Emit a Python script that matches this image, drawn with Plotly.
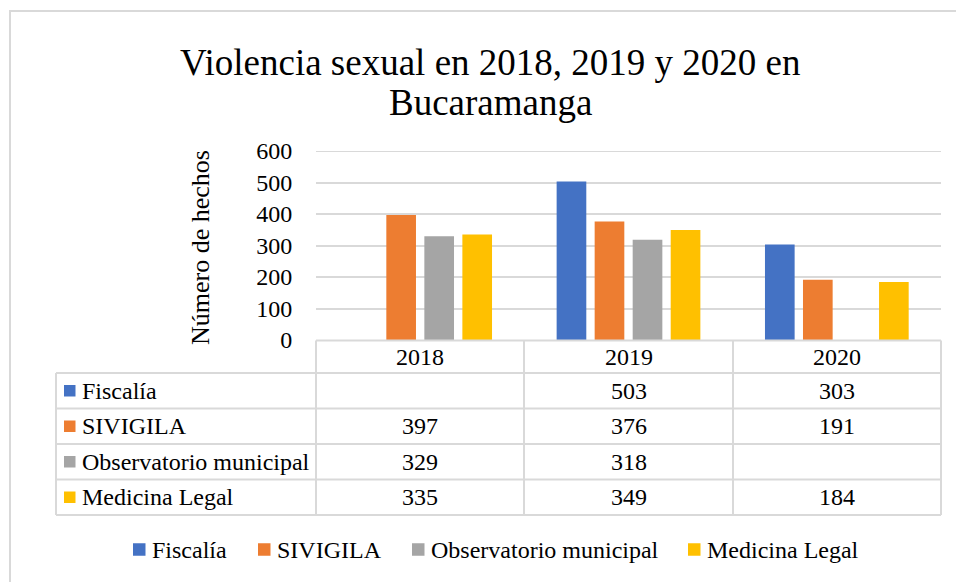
import plotly.graph_objects as go

# ---- data ----
years = ["2018", "2019", "2020"]
series_names = ["Fiscalía", "SIVIGILA", "Observatorio municipal", "Medicina Legal"]
fiscalia = [None, 503, 303]
sivigila = [397, 376, 191]
observatorio = [329, 318, None]
medicina_legal = [335, 349, 184]
y_ticks = [0, 100, 200, 300, 400, 500, 600]

title_lines = ["Violencia sexual en 2018, 2019 y 2020 en", "Bucaramanga"]
y_title = "Número de hechos"

colors = ["#4472C4", "#ED7D31", "#A5A5A5", "#FFC000"]
all_values = [fiscalia, sivigila, observatorio, medicina_legal]

FONT = "Liberation Serif, Times New Roman, serif"
W, H = 956, 582
L, R, T, B = 316, 15, 151, 242
PW = W - L - R
PH = H - T - B


def px_x(px):
    return (px - L) / PW


def px_y(py):
    return (H - B - py) / PH


fig = go.Figure()
for name, vals, col in zip(series_names, all_values, colors):
    fig.add_trace(go.Bar(x=years, y=vals, name=name, showlegend=False,
                         marker=dict(color=col, line=dict(width=0))))

grid = "#d9d9d9"
shapes = []
# outer chart border
shapes.append(dict(type="rect", xref="paper", yref="paper", x0=px_x(10), x1=px_x(1000),
                   y0=px_y(620), y1=px_y(11), line=dict(color=grid, width=2), fillcolor="rgba(0,0,0,0)"))
# top gridline (at the range edge)
shapes.append(dict(type="line", xref="paper", yref="y", x0=0, x1=1, y0=y_ticks[-1], y1=y_ticks[-1],
                   line=dict(color=grid, width=2), layer="below"))

# data table lines
col_edges = [316, 524, 733, 941]
row_edges = [373, 408.5, 444, 479.5, 515]
left_edge = 56
shapes.append(dict(type="line", xref="paper", yref="paper", x0=px_x(316), x1=px_x(941),
                   y0=px_y(340.5), y1=px_y(340.5), line=dict(color=grid, width=2)))
for ry in row_edges:
    shapes.append(dict(type="line", xref="paper", yref="paper", x0=px_x(left_edge), x1=px_x(941),
                       y0=px_y(ry), y1=px_y(ry), line=dict(color=grid, width=2)))
for cx in col_edges:
    shapes.append(dict(type="line", xref="paper", yref="paper", x0=px_x(cx), x1=px_x(cx),
                       y0=px_y(340.5), y1=px_y(515), line=dict(color=grid, width=2)))
shapes.append(dict(type="line", xref="paper", yref="paper", x0=px_x(left_edge), x1=px_x(left_edge),
                   y0=px_y(373), y1=px_y(515), line=dict(color=grid, width=2)))

annotations = []
for k, line in enumerate(title_lines):
    annotations.append(dict(text=line, xref="paper", yref="paper", x=px_x(490), y=px_y(62 + 40 * k),
                            showarrow=False, font=dict(family=FONT, size=37, color="#000"),
                            xanchor="center", yanchor="middle"))
annotations.append(dict(text=y_title, xref="paper", yref="paper", x=px_x(200), y=px_y(248), textangle=-90,
                        showarrow=False, font=dict(family=FONT, size=26, color="#000"),
                        xanchor="center", yanchor="middle"))
for j, yr in enumerate(years):
    annotations.append(dict(text=yr, xref="x", yref="paper", x=j, y=px_y(357), showarrow=False,
                            font=dict(family=FONT, size=24, color="#000"), xanchor="center", yanchor="middle"))
for i, (name, vals, col) in enumerate(zip(series_names, all_values, colors)):
    cy = (row_edges[i] + row_edges[i + 1]) / 2
    shapes.append(dict(type="rect", xref="paper", yref="paper", x0=px_x(64), x1=px_x(75.5),
                       y0=px_y(cy - 5.75), y1=px_y(cy + 5.75), fillcolor=col, line=dict(width=0)))
    annotations.append(dict(text=name, xref="paper", yref="paper", x=px_x(80), y=px_y(cy), showarrow=False,
                            font=dict(family=FONT, size=24, color="#000"), xanchor="left", yanchor="middle"))
    for j, v in enumerate(vals):
        if v is None:
            continue
        annotations.append(dict(text=str(v), xref="x", yref="paper", x=j, y=px_y(cy), showarrow=False,
                                font=dict(family=FONT, size=24, color="#000"), xanchor="center", yanchor="middle"))

# bottom legend (key squares + labels)
legend_sq_x = [133, 258, 412, 688]
legend_cy = 549.5
for name, col, sx in zip(series_names, colors, legend_sq_x):
    shapes.append(dict(type="rect", xref="paper", yref="paper", x0=px_x(sx), x1=px_x(sx + 12.5),
                       y0=px_y(legend_cy - 6.25), y1=px_y(legend_cy + 6.25), fillcolor=col, line=dict(width=0)))
    annotations.append(dict(text=name, xref="paper", yref="paper", x=px_x(sx + 17), y=px_y(legend_cy),
                            showarrow=False, font=dict(family=FONT, size=24, color="#000"),
                            xanchor="left", yanchor="middle"))

fig.update_layout(
    width=W, height=H,
    margin=dict(l=L, r=R, t=T, b=B, autoexpand=False),
    paper_bgcolor="white", plot_bgcolor="white",
    font=dict(family=FONT, size=24, color="#000"),
    barmode="group", bargap=0.27, bargroupgap=0.22,
    showlegend=False,
    xaxis=dict(type="category", categoryorder="array", categoryarray=years, range=[-0.5, 2.5],
               showticklabels=False, showgrid=False, zeroline=False, showline=False, ticks=""),
    yaxis=dict(range=[0, 600], tickvals=y_ticks, showgrid=True, gridcolor=grid, gridwidth=2,
               zeroline=False, showline=False, ticks="outside", ticklen=18, tickcolor="rgba(0,0,0,0)",
               tickfont=dict(family=FONT, size=24, color="#000")),
    shapes=shapes,
    annotations=annotations,
)

fig.write_html("out.html", config={"displayModeBar": False},
               post_script="document.body.style.margin='0';")
